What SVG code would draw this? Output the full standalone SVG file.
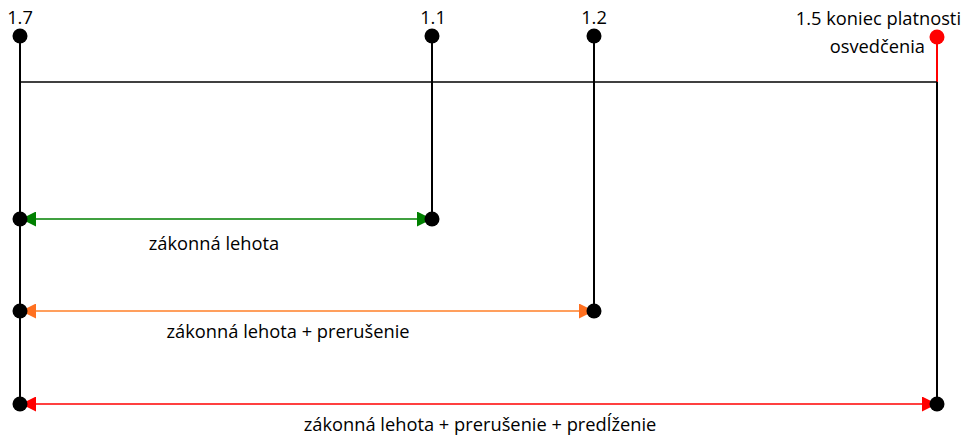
<svg xmlns="http://www.w3.org/2000/svg" width="966" height="439" viewBox="0 0 966 439">
<style>
text{font-family:"Open Sans","Liberation Sans",sans-serif;font-size:18.3px;fill:#000}
.v{stroke:#000;stroke-width:2;fill:none}
.dot{fill:#000}
</style>
<defs>
<marker id="ag" viewBox="0 0 10 10" refX="10" refY="5" markerWidth="15" markerHeight="15" markerUnits="userSpaceOnUse" orient="auto-start-reverse"><path d="M0,0L10,5L0,10z" fill="#008000"/></marker>
<marker id="ao" viewBox="0 0 10 10" refX="10" refY="5" markerWidth="15" markerHeight="15" markerUnits="userSpaceOnUse" orient="auto-start-reverse"><path d="M0,0L10,5L0,10z" fill="#ff7020"/></marker>
<marker id="ar" viewBox="0 0 10 10" refX="10" refY="5" markerWidth="15" markerHeight="15" markerUnits="userSpaceOnUse" orient="auto-start-reverse"><path d="M0,0L10,5L0,10z" fill="#ff0000"/></marker>
</defs>
<g id="connectors">
<line x1="20" y1="36" x2="20" y2="404" class="v"/>
<line x1="432" y1="36" x2="432" y2="219" class="v"/>
<line x1="594" y1="36" x2="594" y2="311" class="v"/>
<line x1="937" y1="37" x2="937" y2="82" stroke="#ff0000" stroke-width="2"/>
<line x1="937" y1="82" x2="937" y2="404" class="v"/>
<line x1="20" y1="82" x2="937" y2="82" stroke="#000" stroke-width="1.5"/>
<line x1="21" y1="219" x2="432" y2="219" stroke="#008000" stroke-width="1.5" marker-start="url(#ag)" marker-end="url(#ag)"/>
<line x1="21" y1="311" x2="594" y2="311" stroke="#ff7f27" stroke-width="1.5" marker-start="url(#ao)" marker-end="url(#ao)"/>
<line x1="21" y1="404" x2="937" y2="404" stroke="#ff0000" stroke-width="1.5" marker-start="url(#ar)" marker-end="url(#ar)"/>
</g>
<g id="n17"><circle cx="20" cy="36" r="7.5" class="dot"/><text x="20" y="24" text-anchor="middle">1.7</text></g>
<g id="n11"><circle cx="432" cy="36" r="7.5" class="dot"/><text x="433" y="24" text-anchor="middle">1.1</text></g>
<g id="n12"><circle cx="594" cy="36" r="7.5" class="dot"/><text x="594" y="24" text-anchor="middle">1.2</text></g>
<g id="n15"><circle cx="937" cy="37" r="7.5" fill="#ff0000"/><text x="961" y="25" text-anchor="end">1.5 koniec platnosti</text><text x="925" y="53" text-anchor="end">osvedčenia</text></g>
<g id="p1"><circle cx="20" cy="219" r="7.5" class="dot"/><circle cx="432" cy="219" r="7.5" class="dot"/></g>
<g id="p2"><circle cx="20" cy="311" r="7.5" class="dot"/><circle cx="594" cy="311" r="7.5" class="dot"/></g>
<g id="p3"><circle cx="20" cy="404" r="7.5" class="dot"/><circle cx="937" cy="404" r="7.5" class="dot"/></g>
<g id="l1"><text x="214" y="250" text-anchor="middle">zákonná lehota</text></g>
<g id="l2"><text x="288" y="338" text-anchor="middle">zákonná lehota + prerušenie</text></g>
<g id="l3"><text x="480" y="431" text-anchor="middle">zákonná lehota + prerušenie + predĺženie</text></g>
</svg>
